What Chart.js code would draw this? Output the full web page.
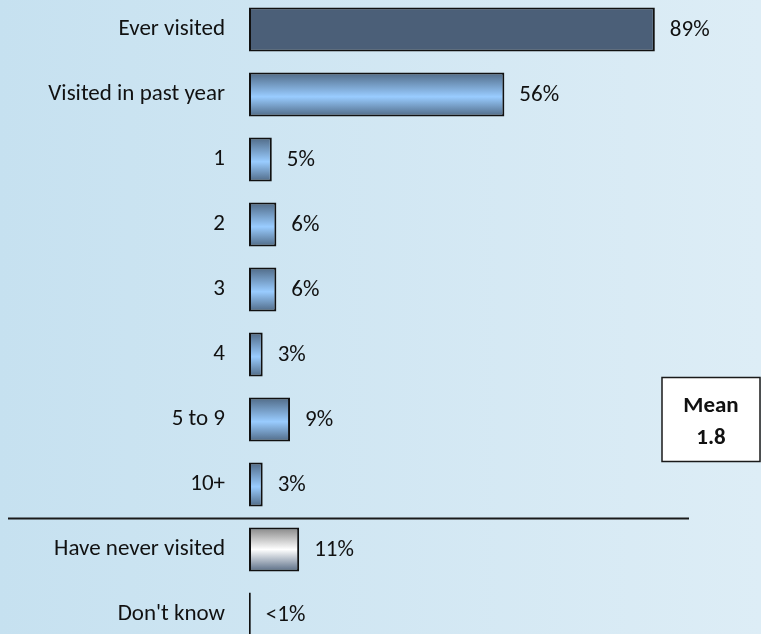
<!DOCTYPE html>
<html>
<head>
<meta charset="utf-8">
<script src="https://cdn.jsdelivr.net/npm/chart.js@4"></script>
<style>
  html, body { margin: 0; padding: 0; width: 761px; height: 634px; overflow: hidden; }
  body { background: linear-gradient(to right, #c6e1f0, #ddedf6); position: relative; }
  #wrap { position: absolute; left: 0; top: -3px; width: 761px; height: 650px; }
</style>
</head>
<body>
<div id="wrap"><canvas id="chart"></canvas></div>
<script>
const categories = ['Ever visited', 'Visited in past year', '1', '2', '3', '4', '5 to 9', '10+', 'Have never visited', "Don't know"]
const values = [89, 56, 5, 6, 6, 3, 9, 3, 11, 0.4]
const valueLabels = ['89%', '56%', '5%', '6%', '6%', '3%', '9%', '3%', '11%', '<1%']
const barStyles = ['solid', 'blue', 'blue', 'blue', 'blue', 'blue', 'blue', 'blue', 'grey', 'blue']
const meanLabel = ['Mean', '1.8']

const FONT = 'Carlito, Calibri, Lato, sans-serif'
const BAR_PCT = 0.68

function barFill(c) {
  const chart = c.chart
  const y = chart.scales.y
  const style = barStyles[c.dataIndex]
  if (style === 'solid') return '#4b5f78'
  if (!y || !chart.chartArea) return '#99ccff'
  const centre = y.getPixelForValue(c.dataIndex)
  const half = (y.height / categories.length) * BAR_PCT / 2
  const g = chart.ctx.createLinearGradient(0, centre - half, 0, centre + half)
  if (style === 'grey') {
    g.addColorStop(0, '#858585')
    g.addColorStop(0.5, '#ffffff')
    g.addColorStop(1, '#566a84')
  } else {
    g.addColorStop(0, '#4f6985')
    g.addColorStop(0.55, '#99ccff')
    g.addColorStop(1, '#4f6985')
  }
  return g
}

const extras = {
  id: 'extras',
  afterDatasetsDraw(chart) {
    const { ctx, scales: { x, y } } = chart
    ctx.save()
    ctx.fillStyle = '#111'
    ctx.font = '23px ' + FONT
    ctx.textBaseline = 'middle'
    ctx.textAlign = 'left'
    values.forEach((v, i) => {
      ctx.fillText(valueLabels[i], x.getPixelForValue(v) + 15, y.getPixelForValue(i) + 1)
    })

    // divider between counts and the rest
    const sepY = (y.getPixelForValue(7) + y.getPixelForValue(8)) / 2 + 1.5
    ctx.strokeStyle = '#1a1a1a'
    ctx.lineWidth = 2
    ctx.beginPath()
    ctx.moveTo(8, sepY)
    ctx.lineTo(689, sepY)
    ctx.stroke()

    // mean box
    const my = y.getPixelForValue(6)
    ctx.fillStyle = '#fff'
    ctx.fillRect(662, my - 42, 98, 84)
    ctx.lineWidth = 1.5
    ctx.strokeRect(662, my - 42, 98, 84)
    ctx.fillStyle = '#111'
    ctx.font = 'bold 23px ' + FONT
    ctx.textAlign = 'center'
    ctx.fillText(meanLabel[0], 711, my - 13)
    ctx.fillText(meanLabel[1], 711, my + 19)
    ctx.restore()
  }
}

new Chart(document.getElementById('chart'), {
  type: 'bar',
  data: {
    labels: categories,
    datasets: [{
      data: values,
      backgroundColor: barFill,
      borderColor: '#111',
      borderWidth: 2,
      borderSkipped: false,
      categoryPercentage: 1,
      barPercentage: BAR_PCT
    }]
  },
  options: {
    indexAxis: 'y',
    responsive: true,
    maintainAspectRatio: false,
    animation: false,
    layout: { padding: { left: 0, right: 56, top: 0, bottom: 0 } },
    plugins: { legend: { display: false }, tooltip: { enabled: false } },
    scales: {
      x: { display: false, min: 0, max: 100 },
      y: {
        grid: { display: false },
        border: { display: false },
        ticks: { color: '#111', padding: 16, font: { family: FONT, size: 23 } },
        afterFit(scale) {
          scale.width = 249
          scale.paddingTop = 0
          scale.paddingBottom = 0
        }
      }
    }
  },
  plugins: [extras]
})
</script>
</body>
</html>
